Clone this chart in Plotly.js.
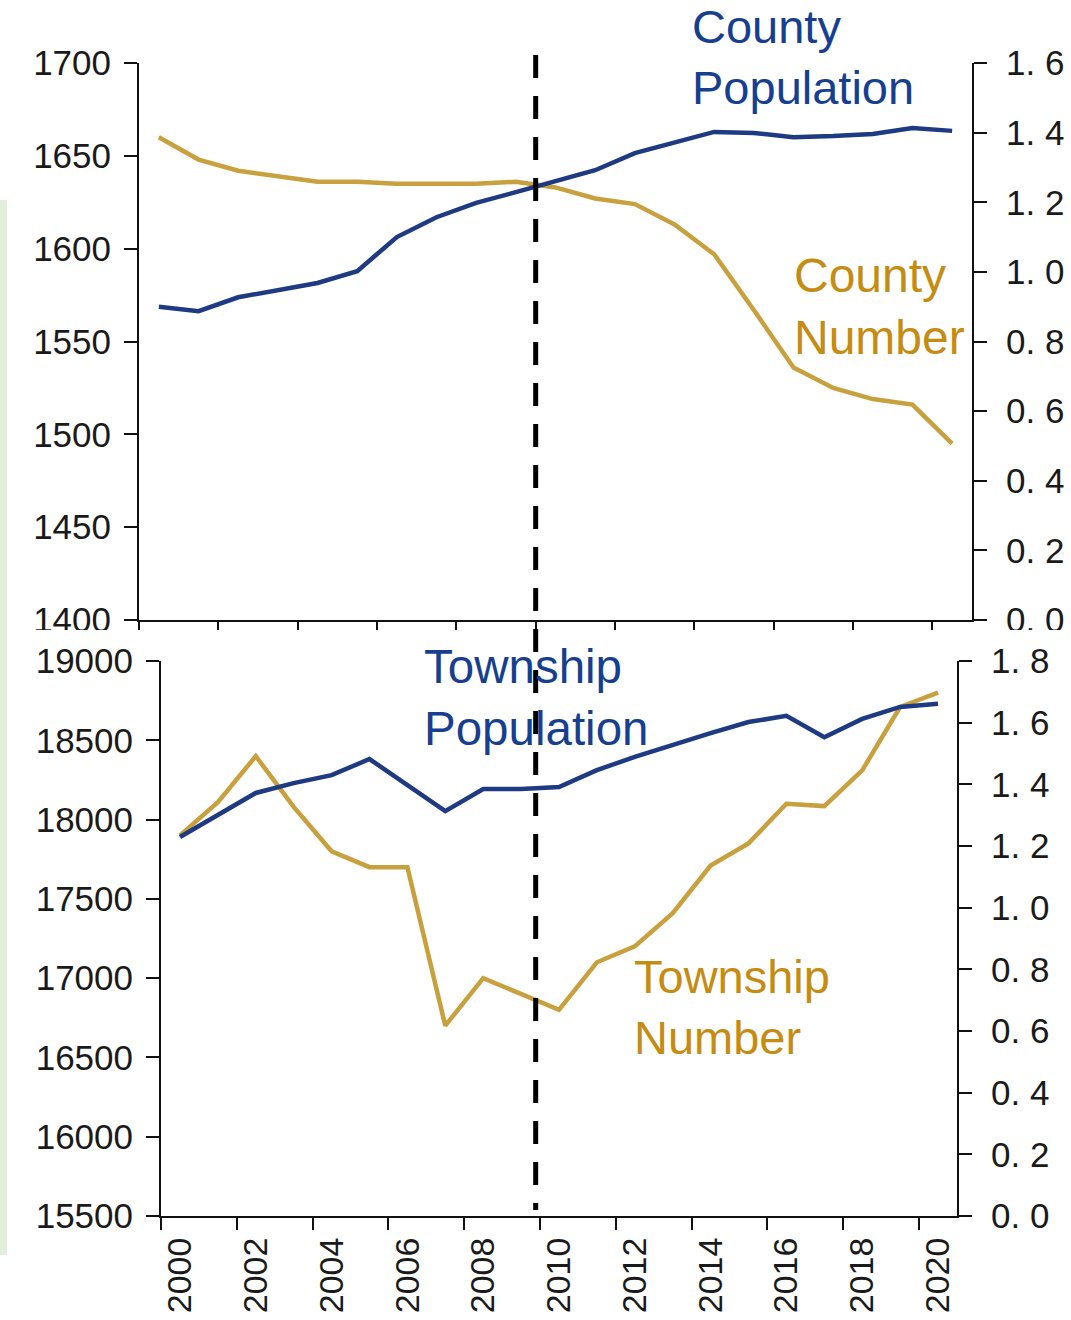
<!DOCTYPE html>
<html>
<head>
<meta charset="utf-8">
<script src="https://cdn.plot.ly/plotly-3.0.1.min.js"></script>
<style>html,body{margin:0;padding:0;background:#fff;}#chart{width:1071px;height:1320px;}</style>
</head>
<body>
<div id="chart"></div>
<script>
// ---- data ----
var years = [2000,2001,2002,2003,2004,2005,2006,2007,2008,2009,2010,2011,2012,2013,2014,2015,2016,2017,2018,2019,2020];
var countyNumber = [1660,1648,1642,1639,1636,1636,1635,1635,1635,1636,1633,1627,1624,1613,1597,1567,1536,1525,1519,1516,1495];
var countyPopulation = [0.90,0.887,0.927,0.948,0.968,1.002,1.100,1.157,1.198,1.229,1.261,1.292,1.341,1.373,1.402,1.399,1.387,1.390,1.396,1.413,1.405];
var townshipNumber = [17900,18110,18400,18080,17800,17700,17700,16700,17000,16900,16800,17100,17200,17410,17710,17850,18100,18085,18310,18710,18800];
var townshipPopulation = [1.229,1.300,1.372,1.404,1.430,1.482,1.398,1.313,1.385,1.385,1.391,1.446,1.489,1.528,1.566,1.602,1.622,1.553,1.612,1.651,1.661];
var topRightTicks = [0,0.2,0.4,0.6,0.8,1.0,1.2,1.4,1.6];
var topRightLabels = ["0. 0","0. 2","0. 4","0. 6","0. 8","1. 0","1. 2","1. 4","1. 6"];
var botRightTicks = [0,0.2,0.4,0.6,0.8,1.0,1.2,1.4,1.6,1.8];
var botRightLabels = ["0. 0","0. 2","0. 4","0. 6","0. 8","1. 0","1. 2","1. 4","1. 6","1. 8"];
var policyYear = 2010;

// ---- styling ----
var W = 1071, H = 1320;
var FONT = "Liberation Sans, Arial, Helvetica, sans-serif";
var BLUE = "#1d3a82", GOLD = "#c9a03e";
var BLUE_TXT = "#173f8f", GOLD_TXT = "#c68c12";
var AX = "#111111";
function px(x){return x/W;}
function py(y){return 1 - y/H;}
var dates = years.map(function(y){return y + "-01-01";});

function lineTrace(y, xa, ya, color){
  return {x: dates, y: y, xaxis: xa, yaxis: ya, type: "scatter", mode: "lines",
    xperiod: "M12", xperiodalignment: "middle",
    line: {color: color, width: 4.5}, hoverinfo: "skip"};
}
var data = [
  lineTrace(countyNumber, "x", "y", GOLD),
  lineTrace(countyPopulation, "x", "y2", BLUE),
  lineTrace(townshipNumber, "x2", "y3", GOLD),
  lineTrace(townshipPopulation, "x2", "y4", BLUE)
];

var tickFont = {family: FONT, size: 35, color: "#1a1a1a"};
function baseAxis(extra){
  var a = {showgrid: false, zeroline: false, showline: true, linecolor: AX, linewidth: 2,
    ticks: "outside", ticklen: 13, tickwidth: 2, tickcolor: AX, tickfont: tickFont, fixedrange: true};
  for (var k in extra) a[k] = extra[k];
  return a;
}

var layout = {
  width: W, height: H,
  margin: {l: 0, r: 0, t: 0, b: 0},
  paper_bgcolor: "#ffffff", plot_bgcolor: "rgba(0,0,0,0)",
  showlegend: false,
  xaxis: baseAxis({domain: [px(139), px(972)], anchor: "y", type: "date",
    range: ["2000-01-01", "2021-01-01"], tick0: "2000-01-01", dtick: "M24", showticklabels: false, ticklen: 11}),
  yaxis: baseAxis({domain: [py(620), py(63)], anchor: "x", range: [1400, 1700], dtick: 50,
    tickformat: "d", ticklabelstandoff: 6}),
  yaxis2: baseAxis({overlaying: "y", side: "right", anchor: "x", range: [0, 1.6],
    tickmode: "array", tickvals: topRightTicks, ticktext: topRightLabels, ticklabelstandoff: 12}),
  xaxis2: baseAxis({domain: [px(161), px(957)], anchor: "y3", type: "date",
    range: ["2000-01-01", "2021-01-01"], tick0: "2000-01-01", dtick: "M24", tickformat: "%Y",
    tickangle: -90, ticklabelshift: 19, ticklabelstandoff: -6, ticklen: 12,
    tickfont: {family: FONT, size: 34, color: "#1a1a1a"}}),
  yaxis3: baseAxis({domain: [py(1216), py(661)], anchor: "x2", range: [15500, 19000], dtick: 500,
    tickformat: "d", ticklabelstandoff: 6}),
  yaxis4: baseAxis({overlaying: "y3", side: "right", anchor: "x2", range: [0, 1.8],
    tickmode: "array", tickvals: botRightTicks, ticktext: botRightLabels, ticklabelstandoff: 12}),
  shapes: [
    {type: "rect", xref: "paper", yref: "paper", x0: 0, x1: px(7), y0: py(1255), y1: py(200),
      fillcolor: "#e2efda", line: {width: 0}, layer: "below"},
    {type: "rect", xref: "paper", yref: "paper", x0: px(10), x1: 1, y0: py(647), y1: py(630),
      fillcolor: "#ffffff", line: {width: 0}, layer: "above"},
    {type: "line", xref: "x", yref: "paper", x0: policyYear + "-01-01", x1: policyYear + "-01-01",
      y0: py(55), y1: py(1210), line: {color: "#000000", width: 5, dash: "23px,18px"}, layer: "above"}
  ],
  annotations: [
    {text: "County<br>Population", xref: "paper", yref: "paper", x: px(690), y: py(57),
      xanchor: "left", yanchor: "middle", align: "left", showarrow: false,
      font: {family: FONT, size: 47, color: BLUE_TXT}},
    {text: "County<br>Number", xref: "paper", yref: "paper", x: px(792), y: py(307),
      xanchor: "left", yanchor: "middle", align: "left", showarrow: false,
      font: {family: FONT, size: 48, color: GOLD_TXT}},
    {text: "Township<br>Population", xref: "paper", yref: "paper", x: px(422), y: py(697),
      xanchor: "left", yanchor: "middle", align: "left", showarrow: false,
      font: {family: FONT, size: 47.5, color: BLUE_TXT}},
    {text: "Township<br>Number", xref: "paper", yref: "paper", x: px(632), y: py(1007),
      xanchor: "left", yanchor: "middle", align: "left", showarrow: false,
      font: {family: FONT, size: 47, color: GOLD_TXT}}
  ]
};

Plotly.newPlot("chart", data, layout, {staticPlot: true, displayModeBar: false});
</script>
</body>
</html>
